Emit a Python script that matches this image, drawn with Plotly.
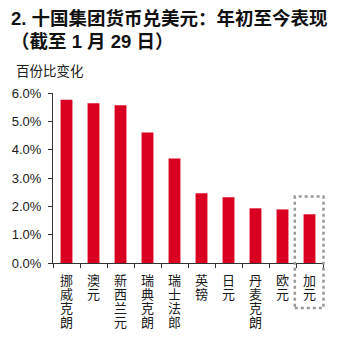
import plotly.graph_objects as go

categories = ["挪威克朗", "澳元", "新西兰元", "瑞典克朗", "瑞士法郎", "英镑", "日元", "丹麦克朗", "欧元", "加元"]
values = [5.76, 5.64, 5.57, 4.61, 3.69, 2.46, 2.32, 1.93, 1.89, 1.72]
y_ticks = [0, 1, 2, 3, 4, 5, 6]
title_lines = ["2. 十国集团货币兑美元：年初至今表现", "（截至 1 月 29 日）"]
y_title = "百份比变化"

FONT = "Liberation Sans, Arial, Noto Sans CJK SC, sans-serif"
W, H = 340, 347
L, R, T, B = 50, 17, 93, 84

fig = go.Figure(go.Bar(
    x=categories, y=values,
    marker=dict(color="#DA0020", line=dict(width=0)),
    width=0.44,
))

pw = W - L - R
ph = H - T - B

def px_x(p):
    return (p - L) / pw

def px_y(p):
    return (H - B - p) / ph

annotations = []
for i, line in enumerate(title_lines):
    annotations.append(dict(
        text=f"<b>{line}</b>", xref="paper", yref="paper",
        x=px_x(6), y=px_y(18 + 24 * i), xanchor="left", yanchor="middle",
        showarrow=False, font=dict(size=18.5, family=FONT, color="#111"),
    ))
annotations.append(dict(
    text=y_title, xref="paper", yref="paper",
    x=px_x(11), y=px_y(71), xanchor="left", yanchor="middle",
    showarrow=False, font=dict(size=13.5, family=FONT, color="#222"),
))
# vertical category labels, one character per line
STEP = 13.9
for cat in categories:
    for k, ch in enumerate(cat):
        annotations.append(dict(
            text=ch, xref="x", yref="paper",
            x=cat, y=px_y(281 + STEP * k), xanchor="center", yanchor="middle",
            height=STEP - 0.2, borderpad=0, borderwidth=0,
            showarrow=False, font=dict(size=13, family=FONT, color="#1a1a1a"),
        ))

fig.update_layout(
    width=W, height=H,
    margin=dict(l=L, r=R, t=T, b=B),
    paper_bgcolor="white", plot_bgcolor="white",
    showlegend=False,
    font=dict(family=FONT, color="#1a1a1a"),
    xaxis=dict(
        type="category", range=[-0.5, 9.5],
        showticklabels=False,
        tickson="boundaries", ticks="outside", ticklen=4, tickcolor="#333",
        showline=True, linecolor="#333", linewidth=1,
        showgrid=False,
    ),
    yaxis=dict(
        range=[0, 6], tickvals=y_ticks,
        ticktext=[f"{v:.1f}%" for v in y_ticks],
        ticks="outside", ticklen=4, tickcolor="#333",
        ticklabelstandoff=4,
        showline=True, linecolor="#333", linewidth=1,
        showgrid=False, zeroline=False,
        tickfont=dict(size=13, family=FONT, color="#1a1a1a"),
    ),
    annotations=annotations,
    shapes=[dict(
        type="rect", xref="paper", yref="paper",
        x0=px_x(294.5), x1=px_x(323.5), y0=px_y(308), y1=px_y(196.5),
        line=dict(color="#999999", width=2.5, dash="dot"),
    )],
)

fig.write_html("out.html")
